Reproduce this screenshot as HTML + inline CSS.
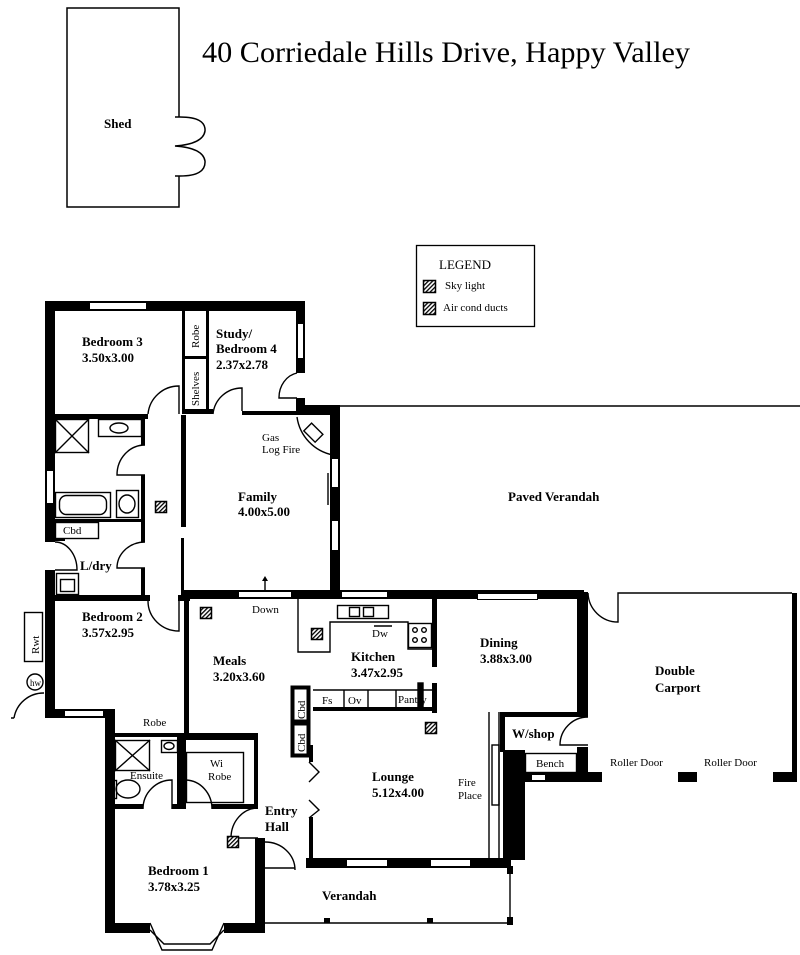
<!DOCTYPE html>
<html><head><meta charset="utf-8"><style>
html,body{margin:0;padding:0;background:#fff;width:800px;height:955px;overflow:hidden}
svg{display:block}
text{font-family:"Liberation Serif",serif;fill:#000}
.b{font-weight:bold;font-size:13px}
.s{font-size:11px}
</style></head><body>
<svg width="800" height="955" viewBox="0 0 800 955" xmlns="http://www.w3.org/2000/svg">
<defs>
<pattern id="h" width="3" height="3" patternUnits="userSpaceOnUse" patternTransform="rotate(-45)"><rect width="3" height="3" fill="#fff"/><rect width="3" height="1.3" fill="#000"/></pattern>
</defs>
<text x="202" y="62" style="font-size:30px" textLength="488" lengthAdjust="spacingAndGlyphs">40 Corriedale Hills Drive, Happy Valley</text>
<path d="M179,117 V8 H67 V207 H179 V176" fill="none" stroke="#000" stroke-width="1.5"/>
<path d="M175,117 H180 Q206,117 205,131 Q203,144 175,146 Q203,148 205,161 Q206,176 180,176 H175" fill="none" stroke="#000" stroke-width="1.5"/>
<text x="104" y="128" class="b">Shed</text>
<rect x="416.5" y="245.5" width="118" height="81" fill="none" stroke="#000" stroke-width="1.3"/>
<text x="439" y="269" style="font-size:13px">LEGEND</text>
<rect x="423.5" y="280.5" width="12" height="12" fill="url(#h)" stroke="#000" stroke-width="1.5"/>
<text x="445" y="289" class="s">Sky light</text>
<rect x="423.5" y="302.5" width="12" height="12" fill="url(#h)" stroke="#000" stroke-width="1.5"/>
<text x="443" y="311" class="s">Air cond ducts</text>

<g fill="#000">
<rect x="45" y="301" width="260" height="10"/>
<rect x="45" y="301" width="10" height="241"/>
<rect x="45" y="570" width="10" height="30"/>
<rect x="296" y="301" width="9" height="72"/>
<rect x="296" y="398" width="9" height="17"/>
<rect x="296" y="405" width="44" height="10"/>
<rect x="330" y="405" width="10" height="190"/>
<rect x="55" y="414" width="93" height="5"/>
<rect x="182" y="311" width="3" height="100"/>
<rect x="206" y="311" width="3" height="100"/>
<rect x="182" y="356" width="27" height="3"/>
<rect x="182" y="409" width="31" height="5"/>
<rect x="242" y="411" width="56" height="4"/>
<rect x="181" y="415" width="5" height="112"/>
<rect x="181" y="538" width="3" height="60"/>
<rect x="141" y="417" width="4" height="28"/>
<rect x="141" y="475" width="4" height="67"/>
<rect x="141" y="568" width="4" height="30"/>
<rect x="55" y="519" width="88" height="3"/>
<rect x="55" y="538" width="10" height="3"/>
<rect x="45" y="595" width="105" height="6"/>
<rect x="178" y="595" width="12" height="6"/>
<rect x="184" y="590" width="400" height="9"/>
<rect x="45" y="595" width="10" height="123"/>
<rect x="45" y="709" width="70" height="9"/>
<rect x="184" y="595" width="5" height="143"/>
<rect x="105" y="709" width="10" height="224"/>
<rect x="115" y="733" width="143" height="4"/>
<rect x="186" y="733" width="72" height="7"/>
<rect x="254" y="733" width="4" height="75"/>
<rect x="177" y="737" width="9" height="71"/>
<rect x="115" y="804" width="28" height="5"/>
<rect x="172" y="804" width="14" height="5"/>
<rect x="212" y="804" width="46" height="5"/>
<rect x="255" y="838" width="10" height="95"/>
<rect x="105" y="923" width="45" height="10"/>
<rect x="224" y="923" width="41" height="10"/>
<rect x="306" y="858" width="205" height="10"/>
<rect x="309" y="817" width="4" height="46"/>
<rect x="309" y="745" width="4" height="17"/>
<rect x="432" y="598" width="5" height="69"/>
<rect x="432" y="683" width="5" height="30"/>
<rect x="313" y="707" width="124" height="4"/>
<rect x="577" y="592" width="11" height="125"/>
<rect x="577" y="747" width="11" height="35"/>
<rect x="502" y="712" width="80" height="5"/>
<rect x="500" y="712" width="5" height="40"/>
<rect x="503" y="750" width="22" height="110"/>
<rect x="525" y="772" width="77" height="10"/>
<rect x="678" y="772" width="19" height="10"/>
<rect x="773" y="772" width="24" height="10"/>
<rect x="792" y="593" width="5" height="189"/>
<rect x="507" y="866" width="6" height="8"/>
<rect x="507" y="917" width="6" height="8"/>
<rect x="324" y="918" width="6" height="5"/>
<rect x="427" y="918" width="6" height="5"/>
</g>
<g fill="#fff" stroke="#000" stroke-width="1">
<rect x="89.5" y="302.5" width="57" height="7"/>
<rect x="46.5" y="470.5" width="7" height="33"/>
<rect x="297.5" y="323.5" width="6" height="35"/>
<rect x="331.5" y="458.5" width="7" height="29"/>
<rect x="331.5" y="520.5" width="7" height="30"/>
<rect x="238.5" y="591.5" width="53" height="6"/>
<rect x="341.5" y="591.5" width="46" height="6"/>
<rect x="477.5" y="593.5" width="60" height="6"/>
<rect x="64.5" y="710.5" width="39" height="6"/>
<rect x="346.5" y="859.5" width="41" height="7"/>
<rect x="430.5" y="859.5" width="40" height="7"/>
<rect x="531.5" y="774.5" width="14" height="6"/>
</g>
<g fill="none" stroke="#000" stroke-width="1.4">
<path d="M340,406 H800"/>
<path d="M328,473 V505"/>
<path d="M148,414 A31,31 0 0 1 179,386 V414"/>
<path d="M213,414 A29,29 0 0 1 242,388 V411"/>
<path d="M297,373 A22,25 0 0 0 279,398 H297"/>
<path d="M297,417 A45,45 0 0 0 333,455"/>
<path d="M145,445 A28,30 0 0 0 117,475 H145"/>
<path d="M55,542 A22,28 0 0 1 77,570 H55"/>
<path d="M145,542 A28,26 0 0 0 117,568 H145"/>
<path d="M148,601 A31,30 0 0 0 179,631 V601"/>
<path d="M143,809 A29,29 0 0 1 172,780 V809"/>
<path d="M186,780 A27,29 0 0 1 212,809"/>
<path d="M258,808 A27,30 0 0 0 231,838 H258"/>
<path d="M265,842 A30,28 0 0 1 295,870"/>
<path d="M588,717 A28,28 0 0 0 560,745 H588"/>
<path d="M588,593 A30,30 0 0 0 618,622 V593 H792"/>
<path d="M309,762 L319,772 L309,782"/>
<path d="M309,800 L319,810 L309,818"/>
<path d="M265,868 H295 M265,923 H510 V868"/>
<path d="M150,923 L162,950 H212 L224,923"/>
<path d="M150,930 L164,944 H210 L224,930"/>
<path d="M489,712 V858 M499,712 V858"/>
<rect x="492" y="745" width="7" height="60"/>
<rect x="186.5" y="752.5" width="57" height="50"/>
<rect x="525.5" y="753.5" width="51" height="19"/>
<rect x="292.5" y="687.5" width="16" height="34" stroke-width="4"/>
<rect x="292.5" y="723.5" width="16" height="32" stroke-width="4"/>
<path d="M313,690 H432 M344,690 V708 M368,690 V708 M396,690 V708"/>
<rect x="418" y="683" width="5" height="27" fill="#000"/>
<path d="M298,599 V652 H330 V622 H408 V649 H432"/>
<rect x="408.5" y="623.5" width="23" height="24"/>
<circle cx="415" cy="630" r="2.3"/><circle cx="424" cy="630" r="2.3"/>
<circle cx="415" cy="640" r="2.3"/><circle cx="424" cy="640" r="2.3"/>
<rect x="337.5" y="605.5" width="51" height="13"/>
<rect x="349.5" y="607.5" width="10" height="9"/><rect x="363.5" y="607.5" width="10" height="9"/>
<path d="M374,626 H392"/>
<rect x="55.5" y="419.5" width="33" height="33"/>
<path d="M55,419 L89,453 M89,419 L55,453"/>
<rect x="98.5" y="419.5" width="43" height="17"/>
<ellipse cx="119" cy="428" rx="9" ry="5"/>
<rect x="55.5" y="492.5" width="55" height="25"/>
<rect x="59.5" y="495.5" width="47" height="19" rx="7"/>
<rect x="116.5" y="490.5" width="22" height="27"/>
<ellipse cx="127" cy="504" rx="8" ry="9"/>
<rect x="55.5" y="522.5" width="43" height="16"/>
<rect x="56.5" y="573.5" width="22" height="21"/>
<rect x="60.5" y="579.5" width="14" height="12"/>
<rect x="115.5" y="740.5" width="34" height="30"/>
<path d="M115,740 L150,771 M150,740 L115,771"/>
<rect x="161.5" y="740.5" width="16" height="12"/>
<ellipse cx="169" cy="746" rx="5" ry="3.5"/>
<rect x="107.5" y="780.5" width="9" height="18"/>
<ellipse cx="128" cy="789" rx="12" ry="9"/>
<rect x="24.5" y="612.5" width="18" height="49"/>
<circle cx="35" cy="682" r="8"/>
<path d="M44,693 A30,30 0 0 0 14,718 M11,718 H14"/>
<rect x="308" y="425" width="11" height="16" transform="rotate(-45 313 433)"/>
<path d="M265,590 V578"/>
</g>
<path d="M262,581 L265,576 L268,581 Z" fill="#000"/>
<g stroke="#000" stroke-width="1.5">
<rect x="155.5" y="501.5" width="11" height="11" fill="url(#h)"/>
<rect x="200.5" y="607.5" width="11" height="11" fill="url(#h)"/>
<rect x="311.5" y="628.5" width="11" height="11" fill="url(#h)"/>
<rect x="425.5" y="722.5" width="11" height="11" fill="url(#h)"/>
<rect x="227.5" y="836.5" width="11" height="11" fill="url(#h)"/>
</g>
<text x="82" y="346" class="b">Bedroom 3</text>
<text x="82" y="362" class="b">3.50x3.00</text>
<text x="216" y="338" class="b">Study/</text>
<text x="216" y="353" class="b">Bedroom 4</text>
<text x="216" y="369" class="b">2.37x2.78</text>
<text transform="translate(199,348) rotate(-90)" class="s">Robe</text>
<text transform="translate(199,406) rotate(-90)" class="s">Shelves</text>
<text x="262" y="441" class="s">Gas</text>
<text x="262" y="453" class="s">Log Fire</text>
<text x="238" y="501" class="b">Family</text>
<text x="238" y="516" class="b">4.00x5.00</text>
<text x="508" y="501" class="b">Paved Verandah</text>
<text x="63" y="534" class="s">Cbd</text>
<text x="80" y="570" class="b">L/dry</text>
<text x="82" y="621" class="b">Bedroom 2</text>
<text x="82" y="637" class="b">3.57x2.95</text>
<text transform="translate(39,654) rotate(-90)" class="s">Rwt</text>
<text x="30" y="686" style="font-size:9px">hw</text>
<text x="252" y="613" class="s">Down</text>
<text x="213" y="665" class="b">Meals</text>
<text x="213" y="681" class="b">3.20x3.60</text>
<text x="372" y="637" class="s">Dw</text>
<text x="351" y="661" class="b">Kitchen</text>
<text x="351" y="677" class="b">3.47x2.95</text>
<text x="480" y="647" class="b">Dining</text>
<text x="480" y="663" class="b">3.88x3.00</text>
<text x="655" y="675" class="b">Double</text>
<text x="655" y="692" class="b">Carport</text>
<text transform="translate(305,719) rotate(-90)" class="s">Cbd</text>
<text transform="translate(305,752) rotate(-90)" class="s">Cbd</text>
<text x="322" y="704" class="s">Fs</text>
<text x="348" y="704" class="s">Ov</text>
<text x="398" y="703" class="s">Pantry</text>
<text x="512" y="738" class="b">W/shop</text>
<text x="536" y="767" class="s">Bench</text>
<text x="610" y="766" class="s">Roller Door</text>
<text x="704" y="766" class="s">Roller Door</text>
<text x="143" y="726" class="s">Robe</text>
<text x="210" y="767" class="s">Wi</text>
<text x="208" y="780" class="s">Robe</text>
<text x="130" y="779" class="s">Ensuite</text>
<text x="265" y="815" class="b">Entry</text>
<text x="265" y="831" class="b">Hall</text>
<text x="372" y="781" class="b">Lounge</text>
<text x="372" y="797" class="b">5.12x4.00</text>
<text x="458" y="786" class="s">Fire</text>
<text x="458" y="799" class="s">Place</text>
<text x="148" y="875" class="b">Bedroom 1</text>
<text x="148" y="891" class="b">3.78x3.25</text>
<text x="322" y="900" class="b">Verandah</text>
</svg>
</body></html>
